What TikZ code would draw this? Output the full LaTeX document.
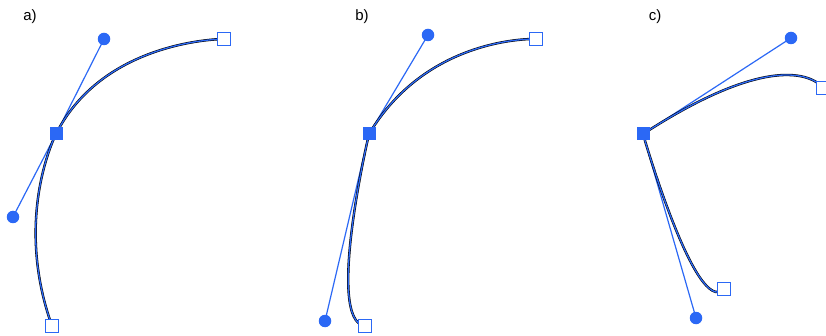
\documentclass[tikz,border=0pt]{standalone}
\usepackage{fontspec}
\setmainfont{Liberation Sans}
\definecolor{hb}{RGB}{43,104,245}
\begin{document}
\begin{tikzpicture}[x=1pt,y=-1pt,
  handleline/.style={draw=hb,line width=1.2pt},
  curveblack/.style={draw=black,line width=2.4pt},
  curveblue/.style={draw=hb,line width=1.3pt,xshift=-0.8pt,yshift=0.8pt},
  anchorsq/.style={fill=hb,draw=none,minimum size=13pt,inner sep=0pt,rectangle},
  endsq/.style={fill=white,draw=hb,line width=1.3pt,minimum size=12.5pt,inner sep=0pt,rectangle},
  handledot/.style={fill=hb,draw=none,circle,minimum size=12.5pt,inner sep=0pt},
  lbl/.style={font=\fontsize{15}{17}\selectfont,inner sep=0pt}]
\useasboundingbox (0,0) rectangle (826,336);
% panel a
\coordinate (aA) at (56,134);
\coordinate (aH1) at (104,39);
\coordinate (aH2) at (13,217);
\coordinate (aE1) at (224,39);
\coordinate (aE2) at (52,326);
% panel b
\coordinate (bA) at (369,134);
\coordinate (bH1) at (428,35);
\coordinate (bH2) at (325,321);
\coordinate (bE1) at (536,39);
\coordinate (bE2) at (365,326);
% panel c
\coordinate (cA) at (643,134);
\coordinate (cH1) at (791,38);
\coordinate (cH2) at (696,318);
\coordinate (cE1) at (823,88);
\coordinate (cE2) at (724,289);

\node[lbl] (la) at (30,17) {a)};
\node[lbl] (lb) at (362,17) {b)};
\node[lbl] (lc) at (655,17) {c)};

\foreach \p in {a,b,c}{
  \draw[handleline] (\p A) -- (\p H1);
  \draw[handleline] (\p A) -- (\p H2);
  \draw[curveblack] (\p E2) .. controls (\p H2) and (\p A) .. (\p A);
  \draw[curveblack] (\p A) .. controls (\p H1) and (\p E1) .. (\p E1);
  \draw[curveblue] (\p E2) .. controls (\p H2) and (\p A) .. (\p A);
  \draw[curveblue] (\p A) .. controls (\p H1) and (\p E1) .. (\p E1);
  \node[handledot] (\p d1) at (\p H1) {};
  \node[handledot] (\p d2) at (\p H2) {};
  \node[endsq] (\p s1) at (\p E1) {};
  \node[endsq] (\p s2) at (\p E2) {};
  \node[anchorsq] (\p sq) at (\p A) {};
}
\end{tikzpicture}
\end{document}
